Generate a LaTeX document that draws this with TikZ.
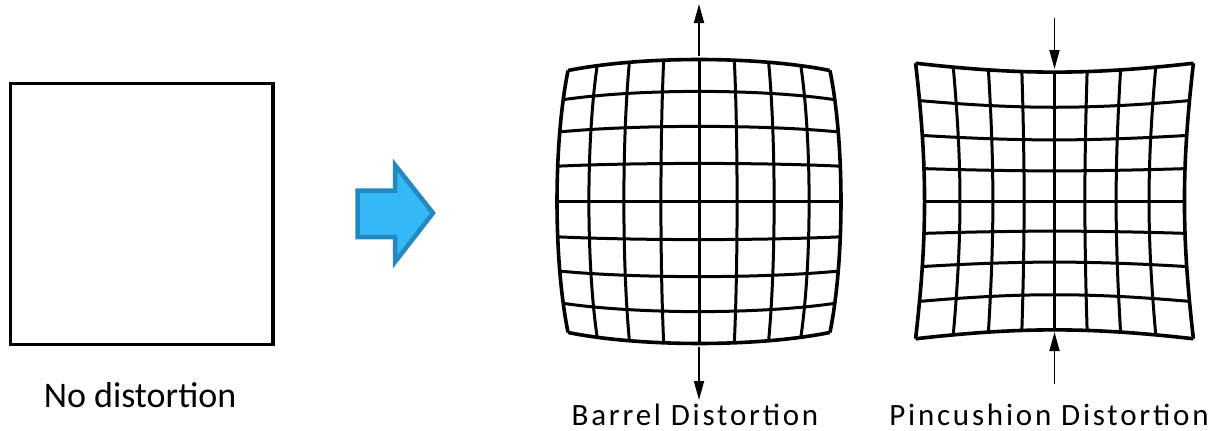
\documentclass[tikz,border=0pt]{standalone}
\usepackage{fontspec}
\setmainfont{Carlito}
\newfontfamily\spacedfont[LetterSpace=9]{Carlito}
\usetikzlibrary{arrows.meta}
\definecolor{arrowblue}{RGB}{52,184,247}
\definecolor{arrowedge}{RGB}{36,137,192}
\tikzset{
  pointer/.style={line width=1.8pt,-{Triangle[length=19pt,width=10pt]}},
  caption/.style={anchor=base,font=\spacedfont\fontsize{31}{35}\selectfont},
  plain/.style={anchor=base,font=\fontsize{36}{40}\selectfont}
}

\begin{document}
\begin{tikzpicture}[x=1pt,y=-1pt]
  \useasboundingbox (0,0) rectangle (1211,431);
  \draw[line width=3.3pt] (10.5,83.5) rectangle (273,344.5);
  \node[plain] (nodist) at (140,407) {No distortion};
  \draw[line width=4.5pt,draw=arrowedge,fill=arrowblue] (357.5,190.5) -- (395,190.5) -- (395,165) -- (433,213) -- (395,262) -- (395,237) -- (357.5,237) -- cycle;
  \foreach \i in {0,...,8}{
    \pgfmathsetmacro\v{\i/4-1}
    \pgfmathsetmacro\lw{(\i==0||\i==8)?3.6:3.0}
    \draw[line width=\lw pt] plot[domain=-1:1,samples=41,smooth] ({699+153*(\x)*(1-0.072*((\x)*(\x)+(\v)*(\v)))},{201.5+153*(\v)*(1-0.072*((\x)*(\x)+(\v)*(\v)))});
    \draw[line width=\lw pt] plot[domain=-1:1,samples=41,smooth] ({699+153*(\v)*(1-0.072*((\x)*(\x)+(\v)*(\v)))},{201.5+153*(\x)*(1-0.072*((\x)*(\x)+(\v)*(\v)))});
    \draw[line width=\lw pt] plot[domain=-1:1,samples=41,smooth] ({1054.5+121*(\x)*(1+0.074*((\x)*(\x)+(\v)*(\v)))},{201+120*(\v)*(1+0.074*((\x)*(\x)+(\v)*(\v)))});
    \draw[line width=\lw pt] plot[domain=-1:1,samples=41,smooth] ({1054.5+121*(\v)*(1+0.074*((\x)*(\x)+(\v)*(\v)))},{201+120*(\x)*(1+0.074*((\x)*(\x)+(\v)*(\v)))});
  }
  \coordinate (btop) at (699,56);
  \coordinate (btoptip) at (699,4);
  \coordinate (bbot) at (699,347);
  \coordinate (bbottip) at (699,400);
  \coordinate (ptop) at (1054.5,18);
  \coordinate (ptoptip) at (1054.5,69);
  \coordinate (pbot) at (1054.5,384);
  \coordinate (pbottip) at (1054.5,332);
  \draw[pointer] (btop) -- (btoptip);
  \draw[pointer] (bbot) -- (bbottip);
  \draw[pointer] (ptop) -- (ptoptip);
  \draw[pointer] (pbot) -- (pbottip);
  \node[caption] (barrel) at (695,425) {Barrel Distortion};
  \node[caption] (pincush) at (1049,425) {Pincushion Distortion};
\end{tikzpicture}
\end{document}
